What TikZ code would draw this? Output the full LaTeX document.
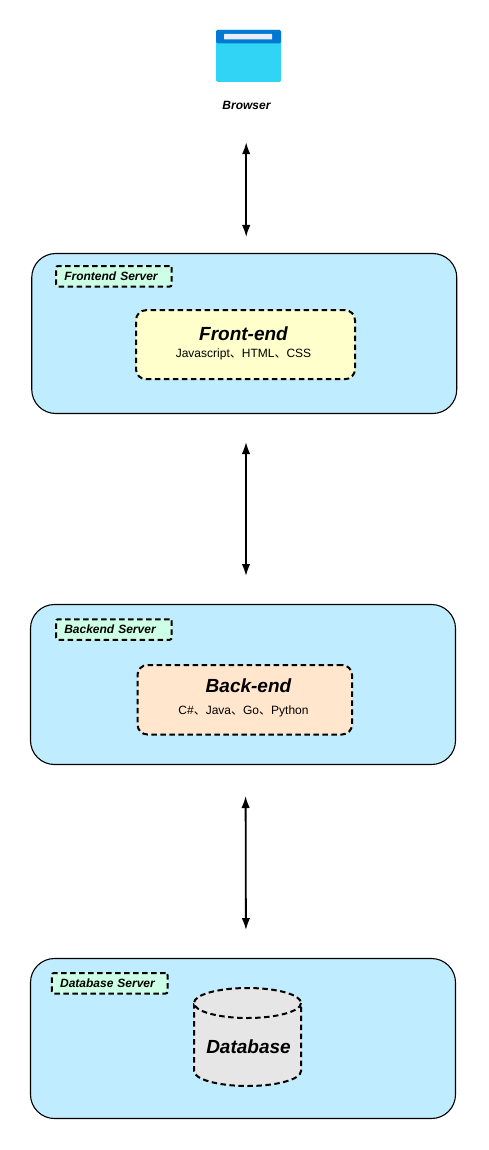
\documentclass[tikz,border=0pt]{standalone}
\usepackage{fontspec}
\setmainfont{Liberation Sans}
\newfontfamily\cjk{Noto Sans CJK SC}
\usetikzlibrary{arrows.meta}
\definecolor{serverblue}{HTML}{BFECFF}
\definecolor{tagmint}{HTML}{CCFFE6}
\definecolor{frontyellow}{HTML}{FFFFCC}
\definecolor{backorange}{HTML}{FFE6CC}
\definecolor{dbgray}{HTML}{E6E6E6}
\definecolor{iconcyan}{RGB}{50,212,245}
\definecolor{iconblue}{RGB}{0,120,212}
\definecolor{iconbar}{RGB}{232,238,244}
\newcommand{\dun}{{\cjk 、}}
\tikzset{
  server/.style={draw, rounded corners=24, fill=serverblue, line width=1.1, outer sep=0,
    minimum width=425, minimum height=160},
  tag/.style={draw, dashed, rounded corners=2, fill=tagmint, line width=2, outer sep=0,
    minimum height=20.5, text width=99.1, inner xsep=8.3, inner ysep=0, align=left,
    font=\fontsize{12}{14}\selectfont\bfseries\itshape},
  codebox/.style={draw, dashed, rounded corners=10, line width=2, outer sep=0},
  bigtitle/.style={font=\fontsize{19}{22}\selectfont\bfseries\itshape},
  smalltext/.style={font=\fontsize{12}{14}\selectfont},
  link/.style={{Latex[length=12,width=8.5]}-{Latex[length=12,width=8.5]}, line width=1.8},
  dashed/.style={dash pattern=on 5.5 off 3.5}
}
\begin{document}
\begin{tikzpicture}[x=1pt,y=-1pt]
\useasboundingbox (0,0) rectangle (488,1150);

% browser
\node[rectangle, rounded corners=1.5, fill=iconcyan, minimum width=65, minimum height=52, outer sep=0] (icon) at (248.5,56) {};
\fill[rounded corners=1.5, iconblue] (216,30) rectangle (281,43.5);
\fill[rounded corners=0.5, iconbar] (224,34) rectangle (272,39.5);
\node[font=\fontsize{12}{14}\selectfont\bfseries\itshape] (browser) at (246.5,105) {Browser};

% servers
\node[server] (fserver) at (244.25,333.5) {};
\node[server] (bserver) at (243,684.5) {};
\node[server] (dserver) at (243,1038.5) {};

\node[tag] (ftag) at (113.85,276.3) {Frontend Server};
\node[tag] (btag) at (113.85,629.5) {Backend Server};
\node[tag] (dtag) at (109.65,983.3) {Database Server};

% front-end
\node[codebox, fill=frontyellow, minimum width=219, minimum height=69] (front) at (245.5,344.7) {};
\node[bigtitle] (ftitle) at (243.5,334) {Front-end};
\node[smalltext] (flangs) at (243.5,354) {Javascript\dun{}HTML\dun{}CSS};

% back-end
\node[codebox, fill=backorange, minimum width=214.5, minimum height=69.5] (back) at (244.75,699.75) {};
\node[bigtitle] (btitle) at (248.5,686) {Back-end};
\node[smalltext] (blangs) at (243.5,711) {C\#\dun{}Java\dun{}Go\dun{}Python};

% database
\draw[dashed, line width=2, fill=dbgray] (194,1003) -- (194,1071)
  arc[start angle=180, end angle=0, x radius=53.5, y radius=15] -- (301,1003);
\draw[dashed, line width=2, fill=dbgray] (247.5,1003) ellipse [x radius=53.5, y radius=15];
\node[bigtitle] (dbtitle) at (248.5,1047) {Database};

% links
\draw[link, shorten <=29.5, shorten >=16.5] ([xshift=-0.3]browser.south) -- ([xshift=-0.3]browser.south |- fserver.north);
\draw[link, shorten <=28.5, shorten >=28.5] ([xshift=1.75]fserver.south) -- ([xshift=3]bserver.north);
\draw[link, shorten <=31.5, shorten >=28.5] ([xshift=2.5]bserver.south) -- ([xshift=3]dserver.north);
\end{tikzpicture}
\end{document}
